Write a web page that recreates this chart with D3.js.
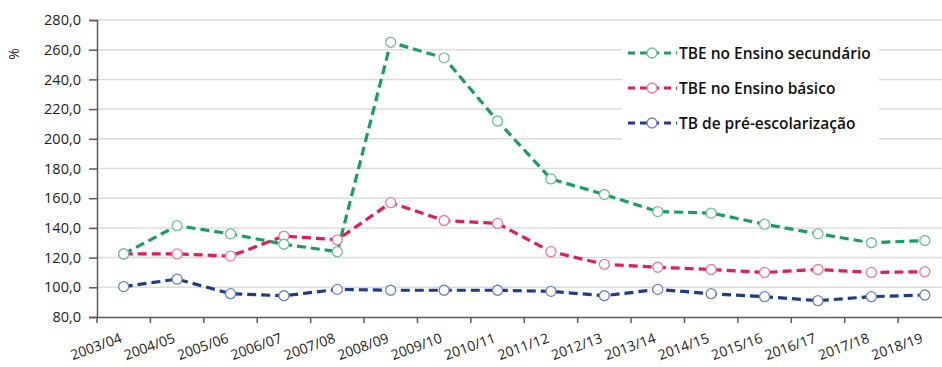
<!DOCTYPE html>
<html><head><meta charset="utf-8">
<script src="https://cdn.jsdelivr.net/npm/d3@7"></script>
<style>body{margin:0;background:#fff}svg{display:block}</style>
</head><body>
<svg id="c" width="942" height="367"></svg>
<script>
const categories = ["2003/04","2004/05","2005/06","2006/07","2007/08","2008/09","2009/10","2010/11","2011/12","2012/13","2013/14","2014/15","2015/16","2016/17","2017/18","2018/19"];
const secundario = [122.5,141.5,136,129,124,265,254.5,212,173,162.5,151,150,142.5,136,130,131.5];
const basico = [122.5,122.5,121,134.5,132,157,145,143,124,115.5,113.5,112,110,112,110,110.5];
const preEscolar = [100.5,105.5,95.7,94.3,98.6,98,98,98,97.3,94.3,98.6,95.7,93.7,91,93.7,94.8];
const yTicks = [80,100,120,140,160,180,200,220,240,260,280];
const seriesNames = ["TBE no Ensino secundário","TBE no Ensino básico","TB de pré-escolarização"];

const series = [
  {name: seriesNames[0], values: secundario, color: "#16a05e", light: "#6cc095"},
  {name: seriesNames[1], values: basico, color: "#e6195e", light: "#ec7aa0"},
  {name: seriesNames[2], values: preEscolar, color: "#1c3c8c", light: "#6f83b7"}
];

const svg = d3.select("#c");
const x = d3.scaleBand().domain(categories).range([97, 951.5]);
const y = d3.scaleLinear().domain([80, 280]).range([317, 20]);
const fmt = v => d3.format(".1f")(v).replace(".", ",");
const font = "'Open Sans', sans-serif";

// gridlines
svg.append("g").selectAll("line").data(yTicks.slice(1)).join("line")
  .attr("x1", 97).attr("x2", 942)
  .attr("y1", d => y(d)).attr("y2", d => y(d))
  .attr("stroke", "#dcdcdc").attr("stroke-width", 1.5);

// y axis
const yAxis = svg.append("g").attr("transform", "translate(97,0)")
  .call(d3.axisLeft(y).tickValues(yTicks).tickFormat(fmt).tickSize(8).tickPadding(8));
yAxis.select(".domain").attr("stroke", "#5a5a5a").attr("stroke-width", 1.5);
yAxis.selectAll(".tick line").attr("stroke", "#5a5a5a").attr("stroke-width", 1.5);
yAxis.selectAll("text").attr("font-family", font).attr("font-size", 14.5).attr("fill", "#222");

// x axis
const xAxis = svg.append("g").attr("transform", "translate(0,317)")
  .call(d3.axisBottom(x).tickSize(0).tickFormat(""));
xAxis.select(".domain").attr("stroke", "#5a5a5a").attr("stroke-width", 1.5);
// boundary ticks
const bounds = categories.map(c => x(c));
svg.append("g").selectAll("line").data(bounds).join("line")
  .attr("x1", d => d).attr("x2", d => d).attr("y1", 317).attr("y2", 323)
  .attr("stroke", "#5a5a5a").attr("stroke-width", 1.5);
// x labels
svg.append("g").selectAll("text").data(categories).join("text")
  .attr("transform", d => `translate(${x(d) + x.bandwidth()/2 - 1},342) rotate(-20)`)
  .attr("text-anchor", "end")
  .attr("font-family", font).attr("font-size", 14).attr("fill", "#222")
  .text(d => d);

// % label
svg.append("text").attr("transform", "translate(19,54) rotate(-90)")
  .attr("text-anchor", "middle").attr("font-family", font).attr("font-size", 14).attr("fill", "#222")
  .text("%");

// lines
const line = d3.line().x((d, i) => x(categories[i]) + x.bandwidth()/2).y(d => y(d));
series.forEach(s => {
  svg.append("path").datum(s.values).attr("d", line)
    .attr("fill", "none").attr("stroke", s.color).attr("stroke-width", 3.2)
    .attr("stroke-dasharray", "9,5");
});
series.slice().reverse().forEach(s => {
  svg.append("g").selectAll("circle").data(s.values).join("circle")
    .attr("cx", (d, i) => x(categories[i]) + x.bandwidth()/2)
    .attr("cy", d => y(d)).attr("r", 5)
    .attr("fill", "#fff").attr("stroke", s.light).attr("stroke-width", 1.3);
});

// legend
const lg = svg.append("g");
lg.append("rect").attr("x", 622).attr("y", 38).attr("width", 257).attr("height", 120).attr("fill", "#fff");
series.forEach((s, i) => {
  const cy = 53 + i * 35;
  lg.append("line").attr("x1", 628).attr("x2", 677).attr("y1", cy).attr("y2", cy)
    .attr("stroke", s.color).attr("stroke-width", 3.2).attr("stroke-dasharray", "7,5");
  lg.append("circle").attr("cx", 652).attr("cy", cy).attr("r", 5)
    .attr("fill", "#fff").attr("stroke", s.light).attr("stroke-width", 1.3);
  lg.append("text").attr("x", 679).attr("y", cy + 5.5)
    .attr("font-family", font).attr("font-size", 15.5).attr("font-weight", 600).attr("fill", "#111")
    .text(s.name);
});
</script>
</body></html>
